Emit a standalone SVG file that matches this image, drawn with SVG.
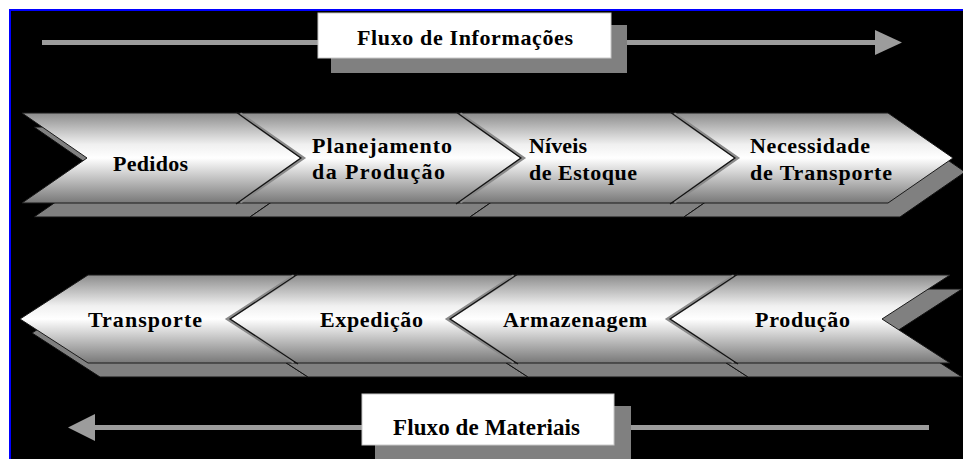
<svg xmlns="http://www.w3.org/2000/svg" width="963" height="459" viewBox="0 0 963 459">
<style>
.t{font-family:"Liberation Serif","Times New Roman",serif;font-weight:bold;font-size:22px;fill:#000}
.sh{fill:#808080;stroke:#111;stroke-width:1}
.ch{fill:url(#g);stroke:#1a1a1a;stroke-width:1}
.jg{fill:none;stroke:#8a8a8a;stroke-width:3.5}
.jb{fill:none;stroke:#111;stroke-width:1.2}
.arr{stroke:#9c9c9c;stroke-width:5;fill:none}
.ah{fill:#9c9c9c}
.box{fill:#fff;stroke:#c8c8c8;stroke-width:1}
.bsh{fill:#808080}
</style>
<defs>
<linearGradient id="g" x1="0" y1="0" x2="0" y2="1">
<stop offset="0" stop-color="#8c8c8c"/>
<stop offset="0.35" stop-color="#f0f0f0"/>
<stop offset="0.5" stop-color="#ffffff"/>
<stop offset="1" stop-color="#787878"/>
</linearGradient>
</defs>
<rect x="0" y="0" width="963" height="459" fill="#fff"/>
<rect x="11" y="11" width="952" height="448" fill="#000"/>
<line x1="10" y1="9" x2="10" y2="459" stroke="#0000ff" stroke-width="2"/>
<line x1="9" y1="10" x2="963" y2="10" stroke="#0000ff" stroke-width="2"/>

<g id="connectors">
<line class="arr" x1="42" y1="42.5" x2="877" y2="42.5"/>
<polygon class="ah" points="875,30 902,42.5 875,55"/>
<line class="arr" x1="93" y1="427.5" x2="929" y2="427.5"/>
<polygon class="ah" points="95,414 68,427.5 95,441"/>
</g>

<g id="fluxo-informacoes">
<rect class="bsh" x="331" y="25" width="296" height="48"/>
<rect class="box" x="318" y="13" width="293" height="45"/>
<text class="t" x="357" y="45" textLength="216" lengthAdjust="spacing">Fluxo de Informações</text>
</g>

<g id="shadows">
<polygon class="sh" points="34,127 250,127 315,172 250,217 34,217 99,172"/>
<polygon class="sh" points="250,127 470,127 535,172 470,217 250,217 315,172"/>
<polygon class="sh" points="470,127 684,127 749,172 684,217 470,217 535,172"/>
<polygon class="sh" points="684,127 900,127 965,172 900,217 684,217 749,172"/>
<polygon class="sh" points="32,333 100,289 308,289 240,333 308,377 100,377"/>
<polygon class="sh" points="240,333 308,289 528,289 460,333 528,377 308,377"/>
<polygon class="sh" points="460,333 528,289 748,289 680,333 748,377 528,377"/>
<polygon class="sh" points="680,333 748,289 962,289 894,333 962,377 748,377"/>
</g>

<g id="pedidos">
<polygon class="ch" points="22,113 238,113 303,158 238,203 22,203 87,158"/>
<text class="t" x="113" y="171" textLength="75" lengthAdjust="spacing">Pedidos</text>
</g>
<g id="planejamento">
<polygon class="ch" points="238,113 458,113 523,158 458,203 238,203 303,158"/>
<text class="t" x="312" y="153" textLength="140" lengthAdjust="spacing">Planejamento</text>
<text class="t" x="312" y="179" textLength="133" lengthAdjust="spacing">da Produção</text>
</g>
<g id="niveis">
<polygon class="ch" points="458,113 672,113 737,158 672,203 458,203 523,158"/>
<text class="t" x="529" y="153" textLength="58" lengthAdjust="spacing">Níveis</text>
<text class="t" x="529" y="180" textLength="108" lengthAdjust="spacing">de Estoque</text>
</g>
<g id="necessidade">
<polygon class="ch" points="672,113 888,113 953,158 888,203 672,203 737,158"/>
<text class="t" x="750" y="153" textLength="120" lengthAdjust="spacing">Necessidade</text>
<text class="t" x="750" y="180" textLength="142" lengthAdjust="spacing">de Transporte</text>
</g>

<g id="transporte">
<polygon class="ch" points="20,319 88,275 296,275 228,319 296,363 88,363"/>
<text class="t" x="88" y="327" textLength="114" lengthAdjust="spacing">Transporte</text>
</g>
<g id="expedicao">
<polygon class="ch" points="228,319 296,275 516,275 448,319 516,363 296,363"/>
<text class="t" x="320" y="327" textLength="103" lengthAdjust="spacing">Expedição</text>
</g>
<g id="armazenagem">
<polygon class="ch" points="448,319 516,275 736,275 668,319 736,363 516,363"/>
<text class="t" x="503" y="327" textLength="144" lengthAdjust="spacing">Armazenagem</text>
</g>
<g id="producao">
<polygon class="ch" points="668,319 736,275 950,275 882,319 950,363 736,363"/>
<text class="t" x="755" y="327" textLength="95" lengthAdjust="spacing">Produção</text>
</g>

<g id="joints">
<polyline class="jg" points="240,114 303,158 240,202"/>
<polyline class="jg" points="460,114 523,158 460,202"/>
<polyline class="jg" points="674,114 737,158 674,202"/>
<polyline class="jg" points="294,276 228,319 294,362"/>
<polyline class="jg" points="514,276 448,319 514,362"/>
<polyline class="jg" points="734,276 668,319 734,362"/>
<polyline class="jb" points="236,112 301,158 236,204"/>
<polyline class="jb" points="456,112 521,158 456,204"/>
<polyline class="jb" points="670,112 735,158 670,204"/>
<polyline class="jb" points="298,274 230,319 298,364"/>
<polyline class="jb" points="518,274 450,319 518,364"/>
<polyline class="jb" points="738,274 670,319 738,364"/>
</g>

<g id="fluxo-materiais">
<rect class="bsh" x="375" y="406" width="256" height="53"/>
<rect class="box" x="362" y="394" width="252" height="51"/>
<text class="t" x="393" y="435" textLength="187" lengthAdjust="spacing" style="font-size:23px">Fluxo de Materiais</text>
</g>
</svg>
